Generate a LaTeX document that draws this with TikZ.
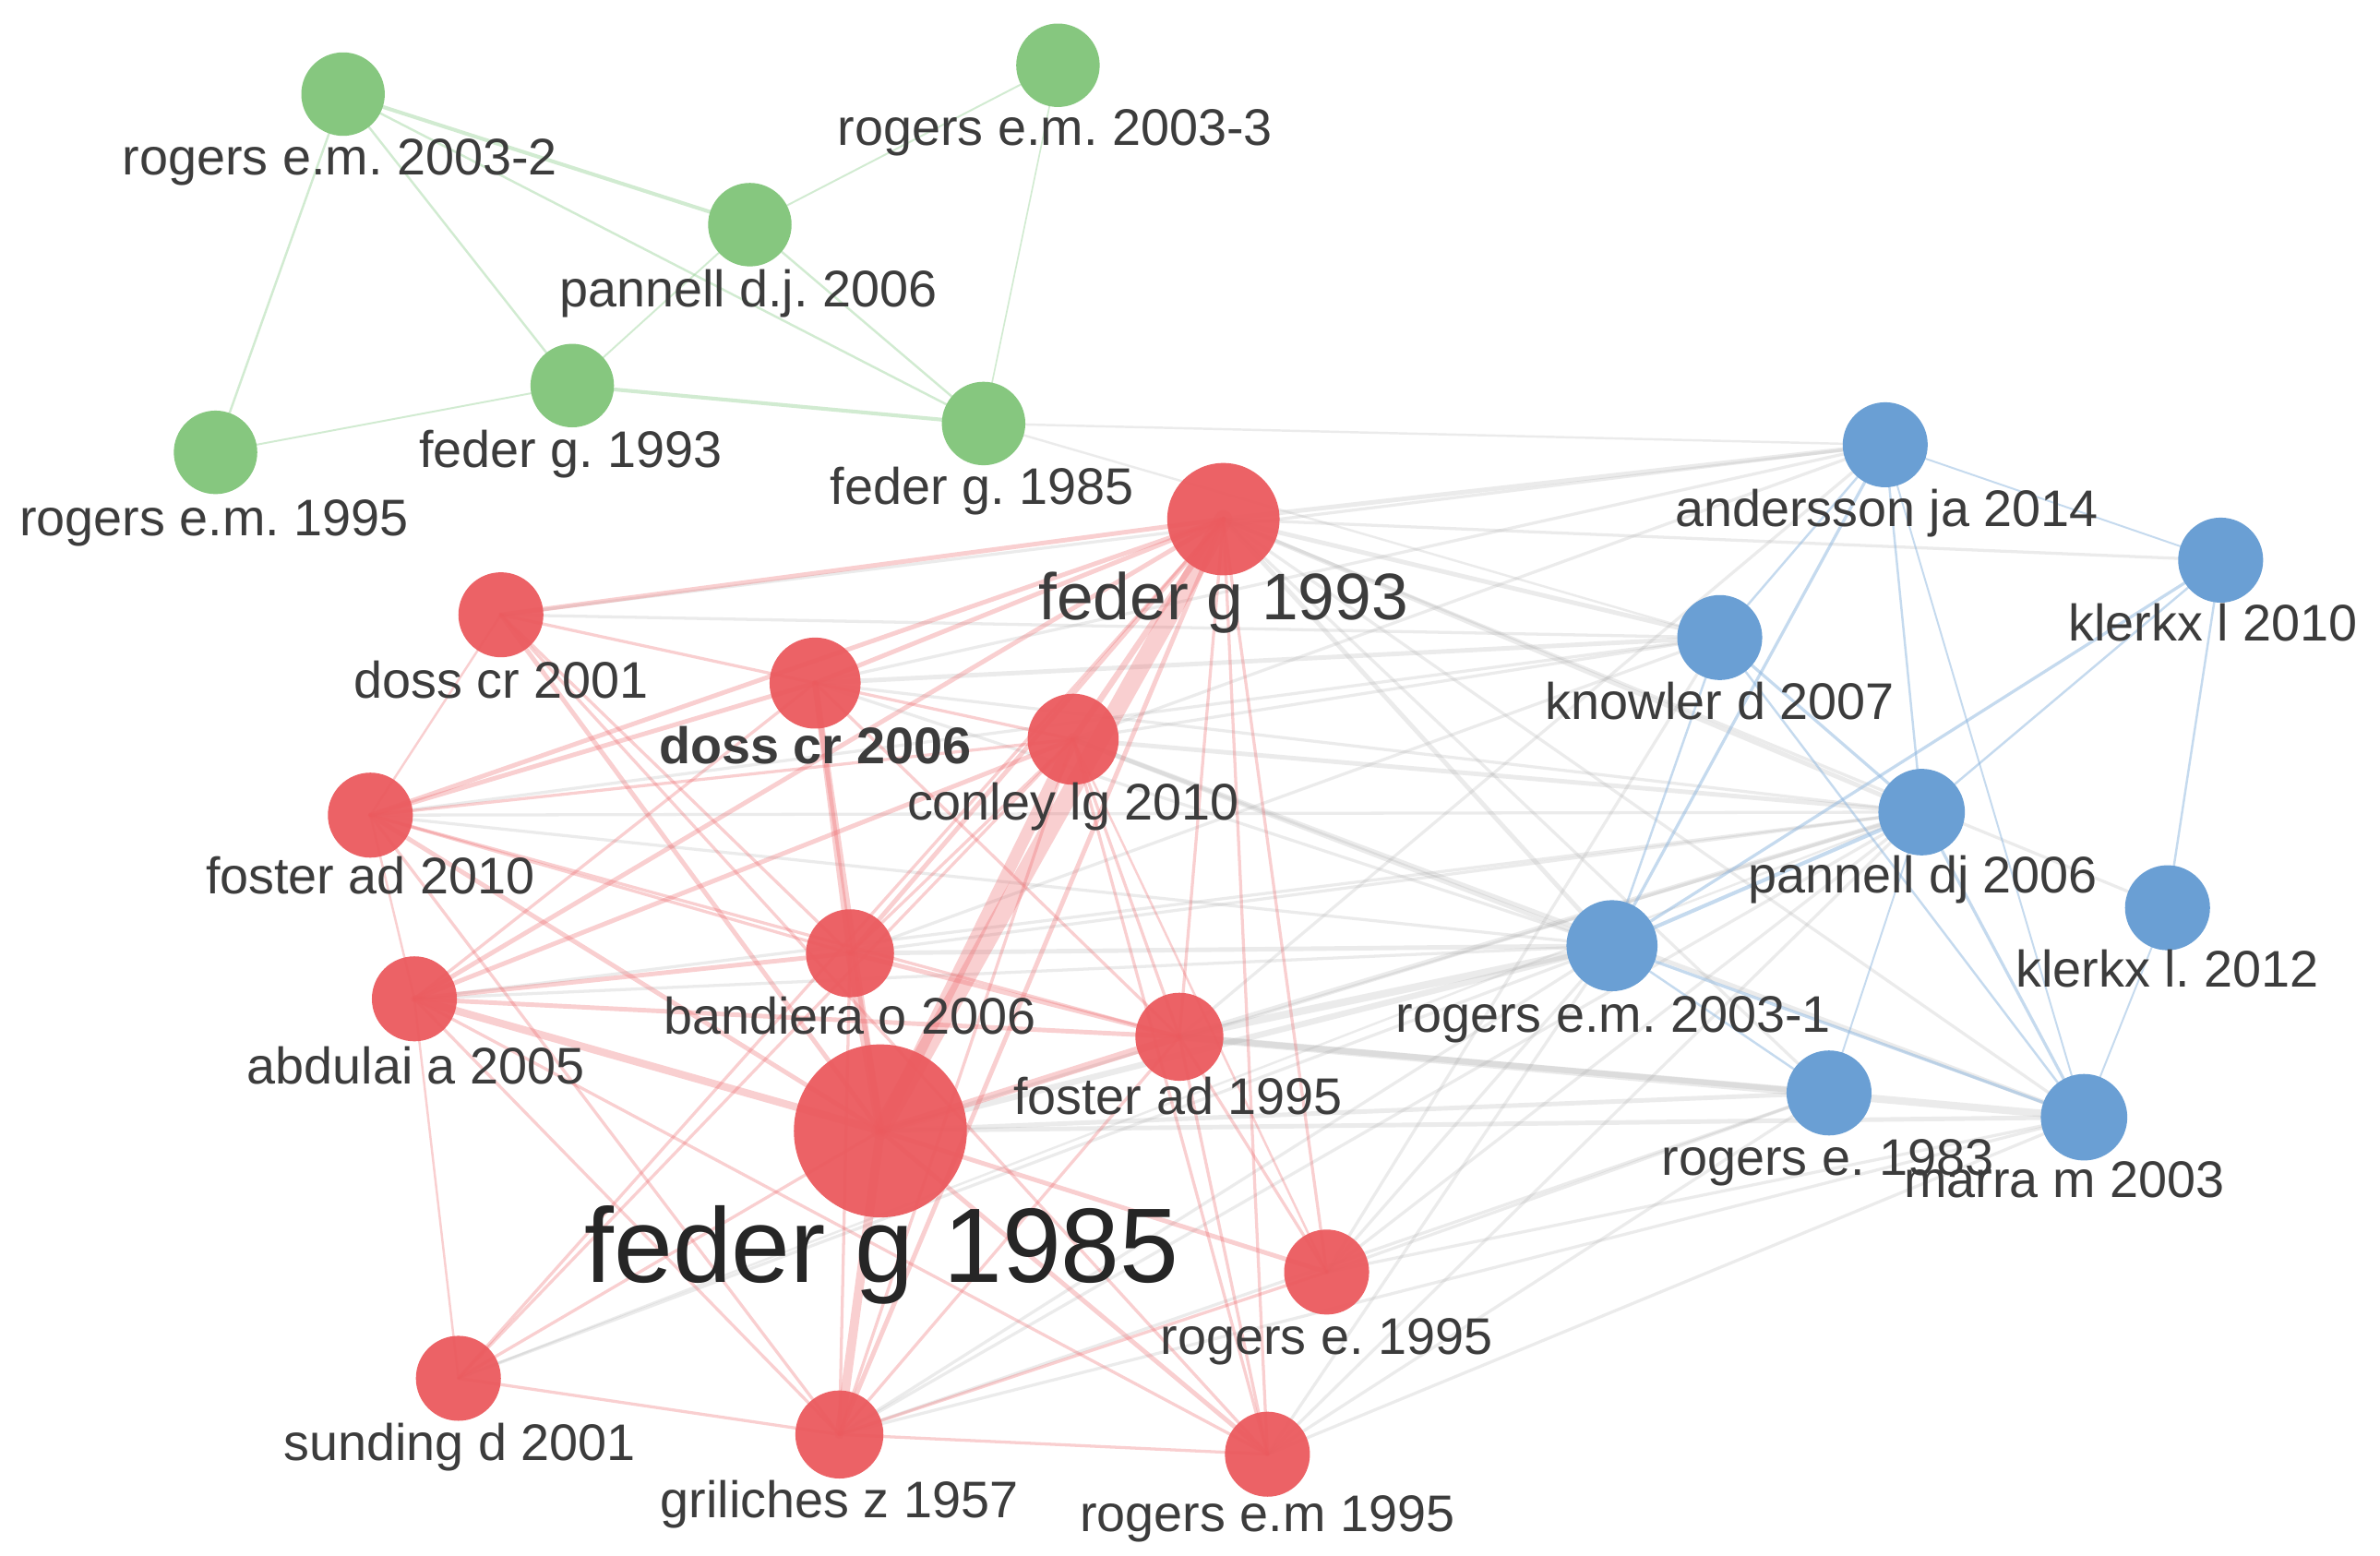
\documentclass[tikz,border=0pt]{standalone}
\usepackage{fontspec}
\setmainfont{Liberation Sans}
\frenchspacing
\pgfdeclarelayer{bg}
\pgfsetlayers{bg,main}
\definecolor{nred}{HTML}{EB5A5E}
\definecolor{ngreen}{HTML}{86C77F}
\definecolor{nblue}{HTML}{6A9FD4}
\definecolor{ered}{HTML}{EE6A6E}
\definecolor{egreen}{HTML}{9BD39A}
\definecolor{eblue}{HTML}{8DB6DF}
\definecolor{egray}{HTML}{A8A8A8}
\definecolor{labc}{HTML}{3C3C3C}
\tikzset{
  nd/.style={circle, inner sep=0pt, draw=none, minimum size=#1},
  rn/.style={nd=#1, fill=nred, fill opacity=0.95},
  gn/.style={nd=#1, fill=ngreen},
  bn/.style={nd=#1, fill=nblue},
  lab/.style={anchor=base, text=labc, inner sep=0pt, font=\fontsize{19.3}{22}\selectfont},
  redge/.style={draw=ered, opacity=0.32, line cap=round},
  gedge/.style={draw=egreen, opacity=0.45, line cap=round},
  bedge/.style={draw=eblue, opacity=0.5, line cap=round},
  xedge/.style={draw=egray, opacity=0.22, line cap=round}
}
\begin{document}
\begin{tikzpicture}[x=0.02cm, y=-0.02cm]
\useasboundingbox (0,0) rectangle (1568,1025);
% green nodes
\node[gn=1.1cm] (G1) at (226,62) {};
\node[gn=1.1cm] (G2) at (697,43) {};
\node[gn=1.1cm] (G3) at (494,148) {};
\node[gn=1.1cm] (G4) at (377,254) {};
\node[gn=1.1cm] (G5) at (648,279) {};
\node[gn=1.1cm] (G6) at (142,298) {};
% red nodes
\node[rn=1.48cm] (R1) at (806,342) {};
\node[rn=1.12cm] (R2) at (330,405) {};
\node[rn=1.2cm] (R3) at (537,450) {};
\node[rn=1.2cm] (R4) at (707,487) {};
\node[rn=1.12cm] (R5) at (244,537) {};
\node[rn=1.16cm] (R6) at (560,628) {};
\node[rn=1.12cm] (R7) at (273,658) {};
\node[rn=1.16cm] (R8) at (777,683) {};
\node[rn=2.28cm] (R9) at (580,745) {};
\node[rn=1.12cm] (R10) at (874,838) {};
\node[rn=1.12cm] (R11) at (302,908) {};
\node[rn=1.16cm] (R12) at (553,945) {};
\node[rn=1.12cm] (R13) at (835,958) {};
% blue nodes
\node[bn=1.12cm] (B1) at (1242,293) {};
\node[bn=1.12cm] (B2) at (1463,369) {};
\node[bn=1.12cm] (B3) at (1133,420) {};
\node[bn=1.14cm] (B4) at (1266,535) {};
\node[bn=1.12cm] (B5) at (1428,598) {};
\node[bn=1.2cm] (B6) at (1062,623) {};
\node[bn=1.12cm] (B7) at (1205,720) {};
\node[bn=1.14cm] (B8) at (1373,736) {};
% labels
\node[lab] (G1l) at (224,115) {rogers e.m. 2003-2};
\node[lab] (G2l) at (695,96) {rogers e.m. 2003-3};
\node[lab] (G3l) at (493,202) {pannell d.j. 2006};
\node[lab] (G4l) at (376,308) {feder g. 1993};
\node[lab] (G5l) at (647,332) {feder g. 1985};
\node[lab] (G6l) at (141,353) {rogers e.m. 1995};
\node[lab, font=\fontsize{24.7}{28}\selectfont] (R1l) at (806,408) {feder g 1993};
\node[lab] (R2l) at (330,460) {doss cr 2001};
\node[lab, font=\fontsize{19.3}{22}\selectfont\bfseries] (R3l) at (537,503) {doss cr 2006};
\node[lab] (R4l) at (707,540) {conley lg 2010};
\node[lab] (R5l) at (244,589) {foster ad 2010};
\node[lab] (R6l) at (560,681) {bandiera o 2006};
\node[lab] (R7l) at (274,714) {abdulai a 2005};
\node[lab] (R8l) at (776,734) {foster ad 1995};
\node[lab, font=\fontsize{39.7}{44}\selectfont, text=black!85] (R9l) at (581,845) {feder g 1985};
\node[lab] (R10l) at (874,892) {rogers e. 1995};
\node[lab] (R11l) at (303,962) {sunding d 2001};
\node[lab] (R12l) at (553,1000) {griliches z 1957};
\node[lab] (R13l) at (835,1009) {rogers e.m 1995};
\node[lab] (B1l) at (1243,347) {andersson ja 2014};
\node[lab] (B2l) at (1458,422) {klerkx l 2010};
\node[lab] (B3l) at (1133,474) {knowler d 2007};
\node[lab] (B4l) at (1267,588) {pannell dj 2006};
\node[lab] (B5l) at (1428,650) {klerkx l. 2012};
\node[lab] (B6l) at (1063,680) {rogers e.m. 2003-1};
\node[lab] (B7l) at (1204,774) {rogers e. 1983};
\node[lab] (B8l) at (1360,789) {marra m 2003};
\begin{pgfonlayer}{bg}
\fill[white] (0,0) rectangle (1568,1025);
% green edges
\foreach \a/\b/\w in {G1/G3/2.5, G1/G4/1.5, G1/G6/1.5, G1/G5/1.5, G3/G2/1.2, G3/G4/1.2, G3/G5/1.5, G4/G5/2.5, G4/G6/1.2, G2/G5/1}
  \draw[gedge, line width=\w*0.567pt] (\a.center) -- (\b.center);
% gray inter-cluster edges
\foreach \a/\b/\w in {R1/B1/3, R1/B2/2, R1/B3/3, R1/B4/3, R1/B6/3, R1/B8/2, R1/B5/2, R1/B7/2,
  R4/B6/3, R4/B3/2, R4/B4/3, R4/B8/3, R4/B1/2, R3/B3/3, R3/B6/2, R3/B4/2, R3/B1/2,
  R6/B6/3, R6/B4/2, R6/B3/2, R8/B6/5, R8/B7/4, R8/B8/5, R8/B4/3, R8/B1/2,
  R9/B6/4, R9/B7/3, R9/B8/3, R9/B4/2, R12/B6/2, R12/B4/2, R12/B8/2, R11/B6/2,
  R13/B6/2, R13/B4/2, R13/B8/2, R10/B6/2, R10/B4/2, R10/B8/2, R10/B3/2,
  R7/B6/2, R5/B3/2, R2/B3/2, R5/B6/2, R7/B4/2, R2/B1/2, R5/B4/2, R11/B4/1.5,
  R12/B7/2, R13/B7/2, R10/B7/2, G5/B1/1.5, G5/B3/1.5}
  \draw[xedge, line width=\w*0.567pt] (\a.center) -- (\b.center);
% red edges
\foreach \a/\b/\w in {R9/R1/12, R9/R4/8, R9/R6/6, R9/R3/4, R9/R12/6, R9/R7/5, R9/R5/3, R9/R8/5,
  R9/R2/3, R9/R10/3, R9/R13/3, R9/R11/2,
  R1/R2/3, R1/R3/3, R1/R4/4, R1/R5/3, R1/R6/3, R1/R7/3, R1/R8/2, R1/R10/2, R1/R13/2, R1/R12/3, R1/R11/2,
  R3/R6/4, R3/R5/3, R3/R7/2, R3/R2/2, R3/R8/2, R3/R4/2,
  R2/R6/2, R2/R13/2, R2/R5/1.5,
  R4/R6/2, R4/R8/2, R4/R13/2, R4/R7/3, R4/R5/2, R4/R11/2, R4/R10/1.5, R4/R12/2,
  R5/R6/2, R5/R8/2, R5/R7/1.5, R5/R12/2,
  R6/R8/3, R6/R7/3, R6/R12/2,
  R7/R8/3, R7/R12/2, R7/R11/1.5, R7/R13/2,
  R8/R12/2, R8/R13/2, R8/R10/2,
  R11/R12/2, R12/R10/2, R12/R13/2}
  \draw[redge, line width=\w*0.567pt] (\a.center) -- (\b.center);
% blue edges
\foreach \a/\b/\w in {B1/B3/1.5, B1/B6/2, B1/B4/1.5, B1/B8/1.2, B2/B4/1.5, B2/B6/2, B2/B5/1.5,
  B3/B4/2, B3/B6/1.5, B3/B8/1.5, B4/B6/2.5, B4/B8/2, B4/B7/1.2, B5/B8/1.2, B6/B8/2, B6/B7/1.5, B1/B2/1.2}
  \draw[bedge, line width=\w*0.567pt] (\a.center) -- (\b.center);
\end{pgfonlayer}
\end{tikzpicture}
\end{document}
